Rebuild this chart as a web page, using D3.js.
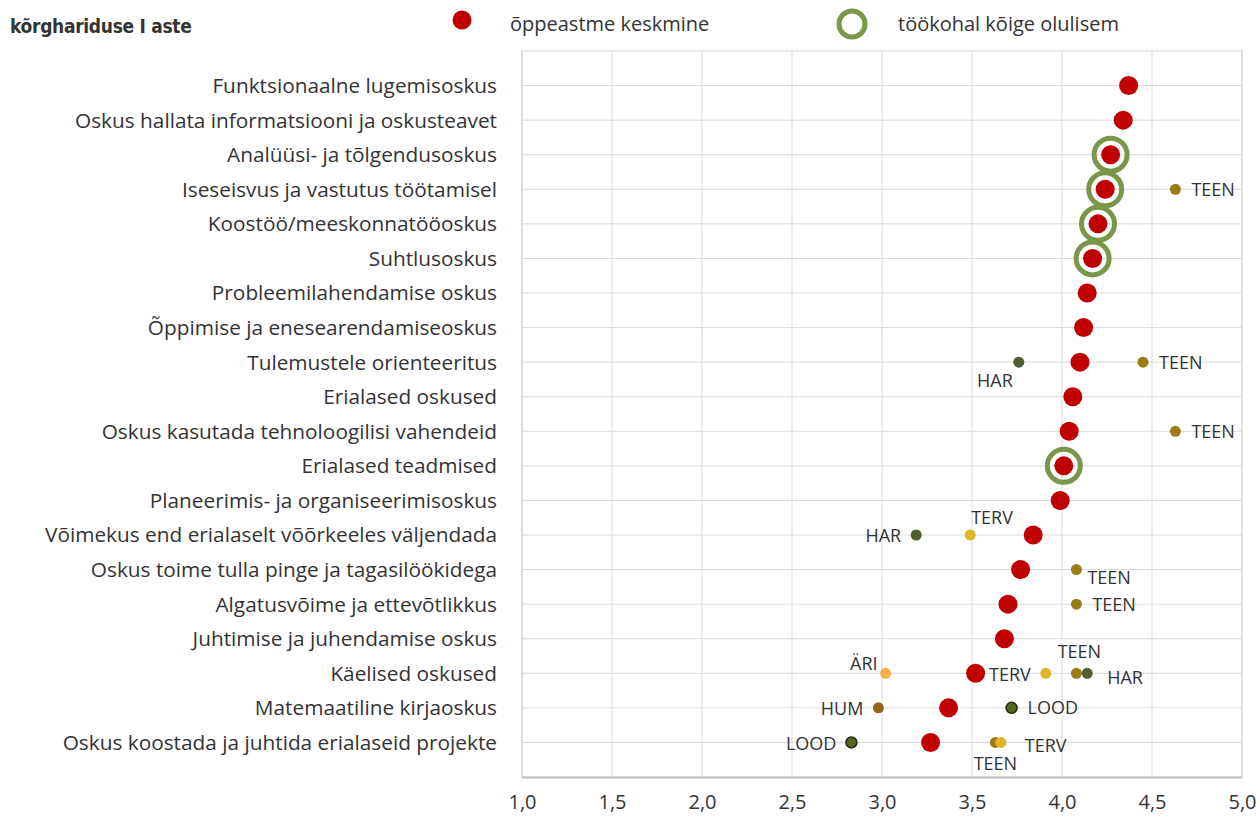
<!DOCTYPE html>
<html>
<head>
<meta charset="utf-8">
<script src="https://cdn.jsdelivr.net/npm/d3@7"></script>
<style>
  body { margin: 0; background: #fff; }
  text { font-family: "Open Sans", sans-serif; fill: #333; }
</style>
</head>
<body>
<script>
// skills, top to bottom
const skills = [
    "Funktsionaalne lugemisoskus",
    "Oskus hallata informatsiooni ja oskusteavet",
    "Analüüsi- ja tõlgendusoskus",
    "Iseseisvus ja vastutus töötamisel",
    "Koostöö/meeskonnatööoskus",
    "Suhtlusoskus",
    "Probleemilahendamise oskus",
    "Õppimise ja enesearendamiseoskus",
    "Tulemustele orienteeritus",
    "Erialased oskused",
    "Oskus kasutada tehnoloogilisi vahendeid",
    "Erialased teadmised",
    "Planeerimis- ja organiseerimisoskus",
    "Võimekus end erialaselt võõrkeeles väljendada",
    "Oskus toime tulla pinge ja tagasilöökidega",
    "Algatusvõime ja ettevõtlikkus",
    "Juhtimise ja juhendamise oskus",
    "Käelised oskused",
    "Matemaatiline kirjaoskus",
    "Oskus koostada ja juhtida erialaseid projekte"
];

// õppeastme keskmine
const avgValues = [4.37, 4.34, 4.27, 4.24, 4.20, 4.17, 4.14, 4.12, 4.10, 4.06,
    4.04, 4.01, 3.99, 3.84, 3.77, 3.70, 3.68, 3.52, 3.37, 3.27];

// töökohal kõige olulisem (index into skills)
const mostImportant = [2, 3, 4, 5, 11];

// field outliers: skill index, field, value
const fieldSkill = [3, 8, 8, 10, 13, 13, 14, 15, 17, 17, 17, 17, 18, 18, 19, 19, 19];
const fieldName  = ["TEEN", "HAR", "TEEN", "TEEN", "TERV", "HAR", "TEEN", "TEEN",
    "ÄRI", "TERV", "TEEN", "HAR", "HUM", "LOOD", "LOOD", "TEEN", "TERV"];
const fieldValue = [4.63, 3.76, 4.45, 4.63, 3.49, 3.19, 4.08, 4.08,
    3.02, 3.91, 4.08, 4.14, 2.98, 3.72, 2.83, 3.63, 3.66];
// where the label sits relative to its dot
const fieldLabelPos = ["r", "bl", "r", "r", "a", "l", "br", "r",
    "al", "l", "ac", "rb", "l", "r", "l", "b", "r2"];

const xTicks = [1, 1.5, 2, 2.5, 3, 3.5, 4, 4.5, 5];

const fieldColor = {
    TEEN: "#9a7b14",
    HAR: "#4f5f2e",
    TERV: "#e0b52a",
    "ÄRI": "#f5b04c",
    HUM: "#98651a",
    LOOD: "#55661f"
};

const width = 1260, height = 820;
const margin = { top: 51, right: 18, bottom: 43, left: 522 };

const svg = d3.select("body").append("svg")
    .attr("width", width)
    .attr("height", height);

const x = d3.scaleLinear()
    .domain([1, 5])
    .range([margin.left, width - margin.right]);

const y = d3.scaleLinear()
    .domain([0, skills.length + 1])
    .range([height - margin.bottom, margin.top]);

const rowY = i => y(skills.length - i);

// grid
const grid = svg.append("g").attr("stroke", "#d9d9d9").attr("stroke-width", 1);
grid.selectAll(".v").data(xTicks).join("line")
    .attr("x1", d => x(d)).attr("x2", d => x(d))
    .attr("y1", y(skills.length + 1)).attr("y2", y(0));
grid.selectAll(".h").data(d3.range(1, skills.length + 1)).join("line")
    .attr("x1", x(1)).attr("x2", x(5))
    .attr("y1", d => y(d)).attr("y2", d => y(d));
svg.append("rect")
    .attr("x", x(1)).attr("y", y(skills.length + 1))
    .attr("width", x(5) - x(1)).attr("height", y(0) - y(skills.length + 1))
    .attr("fill", "none").attr("stroke", "#d0d0d0");
svg.append("line")
    .attr("x1", x(1)).attr("x2", x(5))
    .attr("y1", y(0) + 0.5).attr("y2", y(0) + 0.5)
    .attr("stroke", "#bfbfbf").attr("stroke-width", 2);

// x axis labels
const xAxis = svg.append("g")
    .attr("transform", `translate(0,${y(0) + 15})`)
    .call(d3.axisBottom(x).tickValues(xTicks).tickFormat(d => d3.format(".1f")(d).replace(".", ",")).tickSize(0));
xAxis.select(".domain").remove();
xAxis.selectAll("text").style("font-size", "20px").style("font-family", "'Open Sans', sans-serif").attr("fill", "#404040");

// category labels
svg.append("g").selectAll("text").data(skills).join("text")
    .attr("x", 497)
    .attr("y", (d, i) => rowY(i))
    .attr("dy", "0.36em")
    .attr("text-anchor", "end")
    .style("font-size", "20.8px")
    .attr("fill", "#3a3a3a")
    .text(d => d);

// rings
svg.append("g").selectAll("circle").data(mostImportant).join("circle")
    .attr("cx", i => x(avgValues[i]))
    .attr("cy", i => rowY(i))
    .attr("r", 16.5)
    .attr("fill", "none")
    .attr("stroke", "#7a9648")
    .attr("stroke-width", 5);

// averages
svg.append("g").selectAll("circle").data(avgValues).join("circle")
    .attr("cx", d => x(d))
    .attr("cy", (d, i) => rowY(i))
    .attr("r", 9.5)
    .attr("fill", "#c00000");

// field points
const fields = fieldSkill.map((s, i) => ({
    s: s, name: fieldName[i], v: fieldValue[i], pos: fieldLabelPos[i]
}));

svg.append("g").selectAll("circle").data(fields).join("circle")
    .attr("cx", d => x(d.v))
    .attr("cy", d => rowY(d.s))
    .attr("r", 5.5)
    .attr("fill", d => fieldColor[d.name])
    .attr("stroke", d => d.name === "LOOD" ? "#1e2a0a" : "none")
    .attr("stroke-width", 1.5);

const labelOffset = {
    r:  { dx: 16, dy: 0, anchor: "start" },
    r2: { dx: 24, dy: 3, anchor: "start" },
    rb: { dx: 20, dy: 4, anchor: "start" },
    l:  { dx: -15, dy: 1, anchor: "end" },
    a:  { dx: 1, dy: -17, anchor: "start" },
    ac: { dx: 3, dy: -22, anchor: "middle" },
    b:  { dx: 0, dy: 21, anchor: "middle" },
    bl: { dx: -6, dy: 18, anchor: "end" },
    br: { dx: 11, dy: 8, anchor: "start" },
    al: { dx: -8, dy: -10, anchor: "end" }
};

svg.append("g").selectAll("text").data(fields).join("text")
    .attr("x", d => x(d.v) + labelOffset[d.pos].dx)
    .attr("y", d => rowY(d.s) + labelOffset[d.pos].dy)
    .attr("dy", "0.36em")
    .attr("text-anchor", d => labelOffset[d.pos].anchor)
    .style("font-size", "18px")
    .text(d => d.name);

// title + legend
svg.append("text")
    .attr("x", 10).attr("y", 26).attr("dy", "0.35em")
    .style("font-family", "'DejaVu Sans Condensed', 'DejaVu Sans', sans-serif")
    .style("font-stretch", "condensed")
    .style("font-size", "19px").style("font-weight", "bold")
    .style("letter-spacing", "-0.3px")
    .attr("fill", "#222")
    .text("kõrghariduse I aste");

svg.append("circle").attr("cx", 462).attr("cy", 20).attr("r", 9.5).attr("fill", "#c00000");
svg.append("text").attr("x", 510).attr("y", 24).attr("dy", "0.35em")
    .style("font-size", "20px").attr("fill", "#555")
    .text("õppeastme keskmine");
svg.append("circle").attr("cx", 852).attr("cy", 24).attr("r", 13)
    .attr("fill", "none").attr("stroke", "#7a9648").attr("stroke-width", 5);
svg.append("text").attr("x", 898).attr("y", 24).attr("dy", "0.35em")
    .style("font-size", "20px").attr("fill", "#555")
    .text("töökohal kõige olulisem");
</script>
</body>
</html>
